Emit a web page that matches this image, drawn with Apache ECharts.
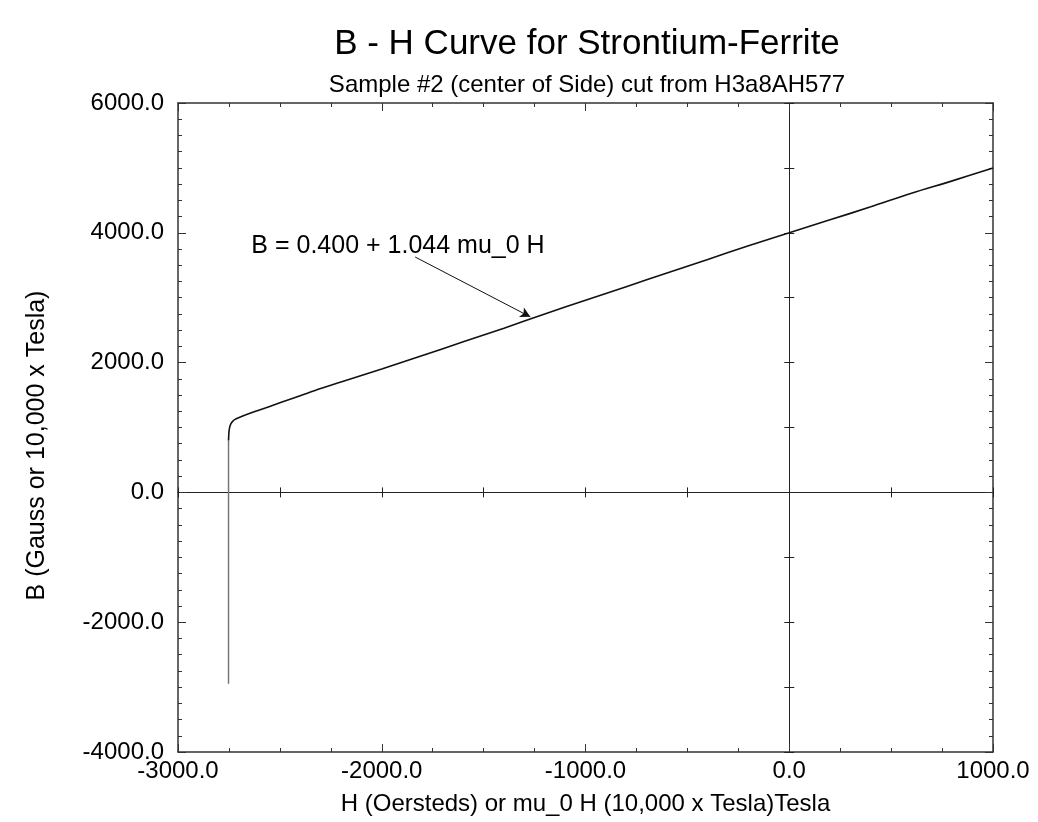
<!DOCTYPE html>
<html>
<head>
<meta charset="utf-8">
<title>B - H Curve for Strontium-Ferrite</title>
<script src="https://cdn.jsdelivr.net/npm/echarts@6/dist/echarts.min.js"></script>
<style>
  html, body { margin: 0; padding: 0; background: #fff; }
  #chart { width: 1038px; height: 822px; }
</style>
</head>
<body>
<div id="chart"></div>
<script>
// measured curve (H in Oersteds, B in Gauss)
const curveH = [-2752, -2750, -2746, -2740, -2732, -2720, -2700, -2650, -2600, -2500, -2400, -2300, -2200, -2100, -2000, -1800, -1600, -1400, -1200, -1000, -800, -600, -400, -200, 0, 200, 400, 600, 800, 1000]
const curveB = [800, 930, 1010, 1060, 1095, 1125, 1155, 1215, 1270, 1380, 1490, 1600, 1700, 1800, 1900, 2110, 2320, 2530, 2750, 2960, 3170, 3380, 3590, 3800, 4000, 4200, 4400, 4610, 4800, 5000]
// steep drop near the coercive field
const dropH = [-2752, -2752, -2752, -2752]
const dropB = [-2950, -1500, 0, 800]

// annotation
const noteText = 'B = 0.400 + 1.044 mu_0 H'
const notePos = [-2640, 3800]
const arrowFrom = [-1836, 3627]
const arrowTo = [-1271, 2705]

const xMin = -3000, xMax = 1000
const yMin = -4000, yMax = 6000

const font = 'Liberation Sans'
const frameColor = '#333'

const chart = echarts.init(document.getElementById('chart'))

// box axes (bottom/top/left/right)
function frameAxis(pos, showLabel) {
  const isX = pos === 'bottom' || pos === 'top'
  return {
    type: 'value',
    position: pos,
    min: isX ? xMin : yMin,
    max: isX ? xMax : yMax,
    interval: isX ? 1000 : 2000,
    axisLine: { show: true, onZero: false, lineStyle: { color: frameColor, width: 1.5 } },
    axisTick: { show: true, inside: true, length: 8, lineStyle: { color: frameColor } },
    minorTick: { show: true, splitNumber: isX ? 4 : 8, length: 4, lineStyle: { color: frameColor } },
    axisLabel: {
      show: showLabel,
      color: '#000',
      fontFamily: font,
      fontSize: 24,
      margin: isX ? 7 : 14,
      formatter: v => v.toFixed(1)
    },
    splitLine: { show: false }
  }
}

// lines through the origin, ticks on both sides
function zeroAxis(dim, inside) {
  const isX = dim === 'x'
  return {
    type: 'value',
    position: isX ? 'bottom' : 'left',
    min: isX ? xMin : yMin,
    max: isX ? xMax : yMax,
    interval: isX ? 500 : 1000,
    axisLine: { show: true, onZero: true, onZeroAxisIndex: 0, lineStyle: { color: '#222', width: 1 } },
    axisTick: { show: true, inside: inside, length: 5, lineStyle: { color: '#222' } },
    axisLabel: { show: false },
    splitLine: { show: false }
  }
}

const option = {
  backgroundColor: '#fff',
  animation: false,
  title: [
    {
      text: 'B - H Curve for Strontium-Ferrite',
      left: 582, top: 22, textAlign: 'center',
      textStyle: { fontFamily: font, fontSize: 35, fontWeight: 'normal', color: '#000' }
    },
    {
      text: 'Sample #2 (center of Side) cut from H3a8AH577',
      left: 582, top: 68, textAlign: 'center',
      textStyle: { fontFamily: font, fontSize: 24, fontWeight: 'normal', color: '#000' }
    }
  ],
  grid: { left: 178, top: 103, right: 45, bottom: 70 },
  xAxis: [
    Object.assign(frameAxis('bottom', true), {
      name: 'H (Oersteds) or mu_0 H (10,000 x Tesla)Tesla',
      nameLocation: 'middle',
      nameGap: 40,
      nameTextStyle: { fontFamily: font, fontSize: 24, color: '#000' }
    }),
    frameAxis('top', false),
    zeroAxis('x', true),
    zeroAxis('x', false)
  ],
  yAxis: [
    Object.assign(frameAxis('left', true), {
      name: 'B (Gauss or 10,000 x Tesla)',
      nameLocation: 'middle',
      nameGap: 128,
      nameTextStyle: { fontFamily: font, fontSize: 25, color: '#000', padding: [0, 36, 0, 0] }
    }),
    frameAxis('right', false),
    zeroAxis('y', true),
    zeroAxis('y', false)
  ],
  series: [
    {
      type: 'line',
      data: dropH.map((h, i) => [h, dropB[i]]),
      showSymbol: false,
      lineStyle: { color: '#777', width: 1.5 },
      z: 3
    },
    {
      type: 'line',
      data: curveH.map((h, i) => [h, curveB[i]]),
      showSymbol: false,
      smooth: 0.3,
      lineStyle: { color: '#111', width: 1.6 },
      z: 4,
      markPoint: {
        symbol: 'circle',
        symbolSize: 0,
        label: {
          show: true,
          position: 'right',
          distance: 0,
          formatter: noteText,
          fontFamily: font,
          fontSize: 25,
          color: '#000'
        },
        data: [{ coord: notePos }]
      },
      markLine: {
        silent: true,
        symbol: ['none', 'arrow'],
        symbolSize: [8, 10],
        label: { show: false },
        lineStyle: { color: '#111', width: 1, type: 'solid' },
        data: [[{ coord: arrowFrom }, { coord: arrowTo }]]
      }
    }
  ]
}

chart.setOption(option)
</script>
</body>
</html>
